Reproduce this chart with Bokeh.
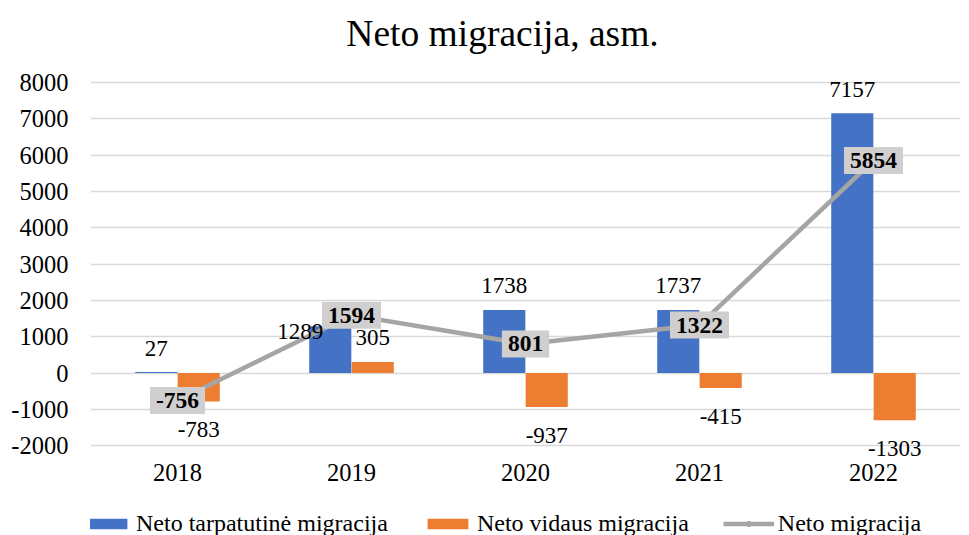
from bokeh.plotting import figure
from bokeh.layouts import column
from bokeh.models import ColumnDataSource, LabelSet, Label, Legend, LegendItem, FixedTicker
from bokeh.transform import dodge
from bokeh.core.properties import value
from bokeh.embed import file_html
from bokeh.resources import INLINE

years = ["2018", "2019", "2020", "2021", "2022"]
international = [27, 1289, 1738, 1737, 7157]
internal = [-783, 305, -937, -415, -1303]
net = [-756, 1594, 801, 1322, 5854]
series_names = ["Neto tarpatutinė migracija", "Neto vidaus migracija", "Neto migracija"]
title_text = "Neto migracija, asm."
y_ticks = [-2000, -1000, 0, 1000, 2000, 3000, 4000, 5000, 6000, 7000, 8000]

FONT = "Liberation Serif"
BLUE = "#4472C4"
ORANGE = "#ED7D31"
GREY = "#A5A5A5"
BW = 0.242
OFF = 0.122

def label_offsets(vals, adjust=None):
    xo, yo = [], []
    for i, v in enumerate(vals):
        dx, dy = 0, (24 if v >= 0 else -28)
        if adjust and i in adjust:
            dx, dy = dx + adjust[i][0], dy + adjust[i][1]
        xo.append(dx)
        yo.append(dy)
    return xo, yo

ixo, iyo = label_offsets(international, {1: (-30, -29)})
exo, eyo = label_offsets(internal)

src = ColumnDataSource(dict(
    years=years, international=international, internal=internal, net=net,
    int_txt=[str(v) for v in international], ext_txt=[str(v) for v in internal],
    net_txt=[str(v) for v in net],
    ixo=ixo, iyo=iyo, exo=exo, eyo=eyo,
))

# frame: 456 px tall; 1000 units = 36.3 px; extra space above 8000 holds the title
FRAME_H = 456
Y_LOW = -2300
Y_HIGH = Y_LOW + FRAME_H / 0.0363

p = figure(x_range=years, y_range=(Y_LOW, Y_HIGH), width=966, height=500,
           output_backend="svg", toolbar_location=None,
           min_border_left=90, min_border_right=6, min_border_top=0, min_border_bottom=44)
p.outline_line_color = None
p.background_fill_color = "white"
p.border_fill_color = "white"

p.xgrid.grid_line_color = None
p.ygrid.grid_line_color = "#D9D9D9"
p.ygrid.grid_line_width = 1.5
p.yaxis.ticker = FixedTicker(ticks=y_ticks)
p.yaxis.major_label_overrides = {t: str(t) for t in y_ticks}
for ax in (p.xaxis, p.yaxis):
    ax.axis_line_color = None
    ax.major_tick_line_color = None
    ax.minor_tick_line_color = None
    ax.major_label_text_font = FONT
    ax.major_label_text_font_size = "24.5px"
    ax.major_label_text_color = "black"
p.yaxis.major_label_standoff = 16
p.xaxis.major_label_standoff = 1
p.x_range.range_padding = 0

p.add_layout(Label(x=412, y=FRAME_H - 33, x_units="screen", y_units="screen", text=title_text,
                   text_font=FONT, text_font_size="37.5px", text_color="black",
                   text_align="center", text_baseline="middle"))

r1 = p.vbar(x=dodge("years", -OFF, range=p.x_range), top="international", width=BW,
            source=src, fill_color=BLUE, line_color=None)
r2 = p.vbar(x=dodge("years", OFF, range=p.x_range), top="internal", width=BW,
            source=src, fill_color=ORANGE, line_color=None)
r3 = p.line(x="years", y="net", source=src, line_color=GREY, line_width=4.5)
r4 = p.scatter(x="years", y="net", source=src, size=10, fill_color=GREY, line_color=GREY)

common = dict(text_font=FONT, text_font_size="23px", text_color="black",
              text_align="center", text_baseline="middle")
p.add_layout(LabelSet(x=dodge("years", -OFF, range=p.x_range), y="international", text="int_txt",
                      x_offset="ixo", y_offset="iyo", source=src, **common))
p.add_layout(LabelSet(x=dodge("years", OFF, range=p.x_range), y="internal", text="ext_txt",
                      x_offset="exo", y_offset="eyo", source=src, **common))
p.text(x="years", y="net", text="net_txt", source=src,
       text_font=value(FONT), text_font_size="23.5px", text_color="black",
       text_align="center", text_baseline="middle", text_font_style="bold",
       background_fill_color="#D0CECE", padding=6)

# legend strip below the chart (same series, drawn outside its visible range)
lg = figure(width=966, height=35, output_backend="svg", toolbar_location=None,
            min_border_left=0, min_border_right=0, min_border_top=0, min_border_bottom=0,
            x_range=years, y_range=(20000, 20001))
lg.axis.visible = False
lg.grid.visible = False
lg.outline_line_color = None
g1 = lg.vbar(x="years", top="international", width=BW, source=src, fill_color=BLUE, line_color=None)
g2 = lg.vbar(x="years", top="internal", width=BW, source=src, fill_color=ORANGE, line_color=None)
g3 = lg.line(x="years", y="net", source=src, line_color=GREY, line_width=4.5)
g4 = lg.scatter(x="years", y="net", source=src, size=10, fill_color=GREY, line_color=GREY)

legend = Legend(items=[
    LegendItem(label=series_names[0], renderers=[g1]),
    LegendItem(label=series_names[1], renderers=[g2]),
    LegendItem(label=series_names[2], renderers=[g3, g4]),
], orientation="horizontal", location=(-9, -2), padding=0, margin=0, spacing=34,
    glyph_width=51, glyph_height=13, label_standoff=4, label_height=26,
    label_text_font=FONT, label_text_font_size="24px", label_text_color="black",
    border_line_color=None, background_fill_alpha=0)
lg.add_layout(legend)

layout = column(p, lg, spacing=0)
open("out.html", "w").write(file_html(layout, INLINE))
